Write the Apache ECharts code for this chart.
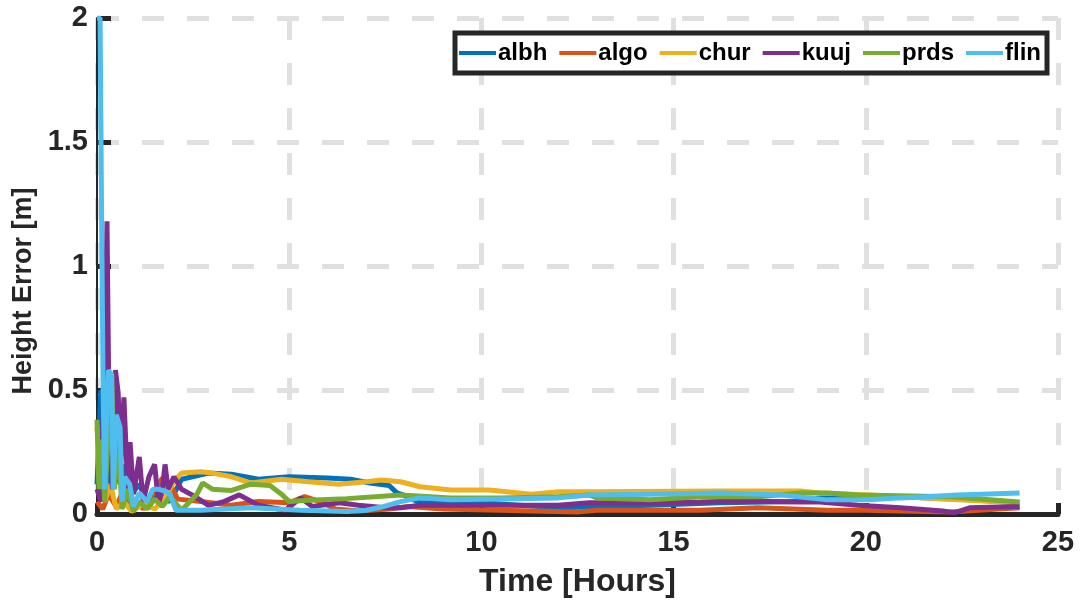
<!DOCTYPE html>
<html>
<head>
<meta charset="utf-8">
<script src="https://cdn.jsdelivr.net/npm/echarts@6/dist/echarts.min.js"></script>
<style>
  html, body { margin: 0; padding: 0; background: #fff; }
  #main { width: 1080px; height: 604px; }
</style>
</head>
<body>
<div id="main"></div>
<script>
// 站点名称
var stations = ['albh', 'algo', 'chur', 'kuuj', 'prds', 'flin'];
var colors = ['#0072BD', '#D95319', '#EDB120', '#7E2F8E', '#77AC30', '#4DBEEE'];

// 各站高程误差 [时间(小时), 误差(m)]
var albh = [[0,0.12],[0.1,0.5],[0.2,0.3],[0.3,0.1],[0.45,0.25],[0.6,0.12],[0.75,0.2],[0.9,0.08],[1.1,0.12],[1.3,0.05],[1.6,0.08],[1.9,0.05],[2.2,0.14],[2.9,0.165],[3.5,0.16],[4.2,0.14],[5,0.15],[6,0.145],[6.6,0.14],[7.1,0.125],[7.6,0.115],[7.8,0.085],[8.0,0.075],[8.4,0.045],[10,0.045],[12,0.025],[14.4,0.035],[16.2,0.045],[18.3,0.05],[18.8,0.065],[20.9,0.07],[22.7,0.057],[24,0.045]];
var algo = [[0,0.05],[0.15,0.02],[0.3,0.08],[0.5,0.03],[0.7,0.1],[0.85,0.02],[1.0,0.06],[1.2,0.02],[1.45,0.08],[1.7,0.145],[1.9,0.12],[2.1,0.06],[2.7,0.05],[3.5,0.035],[4.2,0.05],[5.0,0.045],[5.4,0.07],[5.8,0.05],[6.2,0.02],[6.8,0.012],[7.6,0.02],[8.1,0.03],[9,0.02],[10.5,0.015],[12.5,0.008],[13,0.015],[15.7,0.015],[17.2,0.025],[19,0.015],[20,0.015],[22.2,0.008],[24,0.025]];
var chur = [[0,0.35],[0.1,0.15],[0.2,0.05],[0.35,0.12],[0.5,0.02],[0.7,0.05],[0.9,0.01],[1.2,0.04],[1.5,0.02],[1.75,0.06],[2.0,0.13],[2.2,0.165],[2.7,0.17],[3.0,0.165],[3.5,0.15],[4.0,0.125],[4.8,0.14],[5.5,0.13],[6.3,0.12],[7.0,0.13],[7.4,0.137],[7.9,0.13],[8.4,0.11],[9.2,0.097],[10.2,0.097],[11.3,0.08],[12,0.09],[13,0.09],[16.2,0.093],[18.3,0.093],[18.8,0.085],[20.1,0.077],[22.4,0.057],[24,0.045]];
var kuuj = [[0,0.1],[0.1,0.05],[0.2,0.6],[0.26,1.18],[0.32,0.3],[0.4,0.1],[0.48,0.58],[0.55,0.49],[0.62,0.2],[0.7,0.47],[0.8,0.1],[0.86,0.29],[0.95,0.08],[1.1,0.23],[1.2,0.05],[1.35,0.15],[1.5,0.2],[1.6,0.04],[1.7,0.1],[1.77,0.2],[1.85,0.1],[2.0,0.15],[2.2,0.1],[2.55,0.07],[2.9,0.035],[3.3,0.05],[3.7,0.077],[4.2,0.035],[4.9,0.015],[5.3,0.065],[5.6,0.03],[6.3,0.045],[6.8,0.035],[7.5,0.025],[7.9,0.025],[8.4,0.035],[10.5,0.035],[12,0.035],[12.8,0.045],[14.4,0.045],[15.7,0.048],[16.7,0.052],[18.3,0.048],[18.8,0.048],[19.8,0.035],[20.9,0.025],[22.0,0.012],[22.3,0.005],[22.7,0.025],[24,0.03]];
var prds = [[0,0.38],[0.05,0.1],[0.12,0.3],[0.2,0.05],[0.38,0.57],[0.45,0.1],[0.55,0.3],[0.65,0.02],[0.8,0.1],[0.95,0.01],[1.1,0.05],[1.3,0.02],[1.5,0.06],[1.7,0.03],[1.9,0.07],[2.2,0.015],[2.6,0.08],[2.75,0.125],[3.0,0.1],[3.5,0.095],[4.0,0.12],[4.5,0.115],[4.8,0.08],[5.0,0.05],[5.5,0.055],[6.5,0.062],[7.9,0.077],[9.2,0.065],[10.5,0.065],[12,0.07],[12.8,0.077],[13,0.065],[14.4,0.057],[15.7,0.07],[17.2,0.07],[18.3,0.085],[19,0.085],[19.8,0.077],[22.2,0.07],[24,0.048]];
var flin = [[0,2.0],[0.08,2.0],[0.12,1.2],[0.16,0.5],[0.2,0.1],[0.25,0.4],[0.3,0.58],[0.38,0.56],[0.42,0.1],[0.5,0.4],[0.6,0.35],[0.65,0.05],[0.72,0.15],[0.85,0.12],[0.95,0.03],[1.1,0.085],[1.3,0.05],[1.45,0.1],[1.6,0.1],[1.8,0.09],[1.9,0.08],[2.05,0.015],[2.7,0.015],[4.0,0.025],[5.3,0.015],[6.5,0.01],[7.0,0.015],[7.4,0.028],[7.9,0.05],[8.4,0.065],[9.2,0.057],[10.5,0.06],[12,0.065],[12.8,0.077],[14.4,0.08],[16.2,0.085],[17.8,0.077],[19,0.057],[20.1,0.057],[20.9,0.065],[22.4,0.077],[24,0.085]];

var seriesData = [albh, algo, chur, kuuj, prds, flin];

var textColor = '#262626';
var fontFamily = 'Liberation Sans, Arial, sans-serif';

var series = [];
for (var i = 0; i < stations.length; i++) {
  series.push({
    name: stations[i],
    type: 'line',
    data: seriesData[i],
    showSymbol: false,
    lineStyle: { width: 5, color: colors[i] },
    itemStyle: { color: colors[i] }
  });
}

var option = {
  animation: false,
  backgroundColor: '#fff',
  grid: { left: 97, right: 22, top: 18, bottom: 90 },
  legend: {
    data: stations,
    right: 33,
    top: 33,
    orient: 'horizontal',
    icon: 'rect',
    itemWidth: 37,
    itemHeight: 4,
    itemGap: 12,
    padding: [8, 6, 8, 4],
    borderColor: textColor,
    borderWidth: 5,
    backgroundColor: '#fff',
    textStyle: { fontSize: 24, fontWeight: 'bold', color: '#000', fontFamily: fontFamily, padding: [0, 0, 0, -3] }
  },
  xAxis: {
    type: 'value',
    min: 0,
    max: 25,
    interval: 5,
    name: 'Time [Hours]',
    nameLocation: 'middle',
    nameGap: 52,
    nameTextStyle: { fontSize: 32, fontWeight: 'bold', color: textColor, fontFamily: fontFamily },
    axisLine: { show: true, onZero: false, lineStyle: { color: textColor, width: 5 } },
    axisTick: { show: true, inside: true, length: 11, lineStyle: { color: textColor, width: 5 } },
    axisLabel: { margin: 14, fontSize: 29, fontWeight: 'bold', color: textColor, fontFamily: fontFamily },
    splitLine: { show: true, lineStyle: { color: '#e0e0e0', width: 5, type: [22, 23] } }
  },
  yAxis: {
    type: 'value',
    min: 0,
    max: 2,
    interval: 0.5,
    name: 'Height Error [m]',
    nameLocation: 'middle',
    nameGap: 57,
    nameTextStyle: { fontSize: 27, fontWeight: 'bold', color: textColor, fontFamily: fontFamily, padding: [0, 50, 0, 0] },
    axisLine: { show: true, lineStyle: { color: textColor, width: 2 } },
    axisTick: { show: true, inside: true, length: 14, lineStyle: { color: textColor, width: 5 } },
    axisLabel: { margin: 9, fontSize: 29, fontWeight: 'bold', color: textColor, fontFamily: fontFamily },
    splitLine: { show: true, lineStyle: { color: '#e0e0e0', width: 5, type: [22, 23] } }
  },
  series: series
};

echarts.init(document.getElementById('main')).setOption(option);
</script>
</body>
</html>
